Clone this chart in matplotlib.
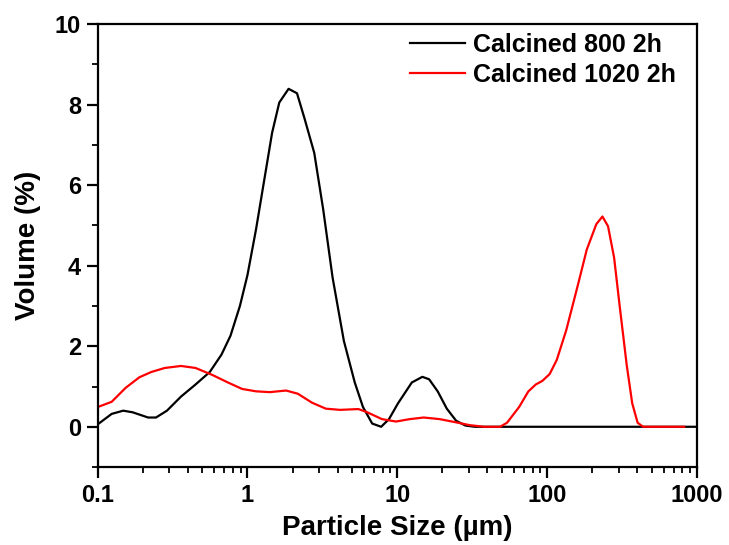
import matplotlib
matplotlib.use("Agg")
import matplotlib.pyplot as plt
from matplotlib.ticker import FixedLocator, LogLocator, NullFormatter, FixedFormatter

plt.rcParams['font.family'] = ['Liberation Sans', 'DejaVu Sans']
plt.rcParams['font.weight'] = 'bold'

# Calcined 800 2h
x800 = [0.1, 0.124, 0.148, 0.171, 0.217, 0.245, 0.29, 0.36, 0.45, 0.56, 0.67, 0.77,
        0.89, 1.0, 1.14, 1.29, 1.46, 1.63, 1.88, 2.14, 2.4, 2.79, 3.2, 3.7, 4.4, 5.2,
        5.9, 6.8, 7.8, 8.8, 10.1, 12.5, 14.7, 16.3, 18.6, 21.4, 24.7, 28.5, 33, 1000]
y800 = [0.06, 0.32, 0.40, 0.36, 0.23, 0.23, 0.40, 0.75, 1.05, 1.36, 1.79, 2.26,
        3.0, 3.77, 4.9, 6.1, 7.3, 8.05, 8.39, 8.28, 7.66, 6.8, 5.4, 3.7, 2.13, 1.1,
        0.49, 0.08, 0.0, 0.19, 0.58, 1.1, 1.24, 1.18, 0.88, 0.45, 0.15, 0.03, 0.0, 0.0]

# Calcined 1020 2h
x1020 = [0.1, 0.124, 0.154, 0.19, 0.228, 0.28, 0.36, 0.45, 0.58, 0.74, 0.92, 1.14,
         1.41, 1.81, 2.17, 2.69, 3.33, 4.15, 5.5, 6.3, 7.9, 9.8, 12.1, 15, 19.2, 24.7,
         30.5, 38, 48.5, 54, 65, 75, 84, 93, 104, 116, 134, 160, 184, 213, 234, 255,
         280, 305, 340, 370, 402, 437, 822]
y1020 = [0.49, 0.62, 0.97, 1.23, 1.36, 1.46, 1.51, 1.46, 1.29, 1.10, 0.94, 0.88,
         0.86, 0.90, 0.82, 0.60, 0.45, 0.42, 0.44, 0.36, 0.19, 0.13, 0.19, 0.23, 0.19, 0.11,
         0.04, 0.0, 0.0, 0.10, 0.49, 0.88, 1.05, 1.14, 1.31, 1.66, 2.39, 3.5, 4.4, 5.03, 5.22, 4.98,
         4.2, 3.0, 1.53, 0.58, 0.10, 0.0, 0.0]

labels = ['Calcined 800 2h', 'Calcined 1020 2h']
colors = ['black', 'red']
x_ticks = [0.1, 1, 10, 100, 1000]
x_ticklabels = ['0.1', '1', '10', '100', '1000']
y_ticks = [0, 2, 4, 6, 8, 10]

fig = plt.figure(figsize=(7.29, 5.45), dpi=100)
ax = fig.add_axes([0.134, 0.143, 0.822, 0.813])

ax.plot(x800, y800, color=colors[0], lw=1.6, label=labels[0])
ax.plot(x1020, y1020, color=colors[1], lw=1.6, label=labels[1])

ax.set_xscale('log')
ax.set_xlim(0.1, 1000)
ax.set_ylim(-1, 10)
ax.xaxis.set_major_locator(FixedLocator(x_ticks))
ax.xaxis.set_major_formatter(FixedFormatter(x_ticklabels))
ax.xaxis.set_minor_locator(LogLocator(base=10, subs=range(2, 10)))
ax.xaxis.set_minor_formatter(NullFormatter())
ax.yaxis.set_major_locator(FixedLocator(y_ticks))
ax.yaxis.set_minor_locator(FixedLocator([-1, 1, 3, 5, 7, 9]))

for s in ax.spines.values():
    s.set_linewidth(1.6)
ax.tick_params(which='major', direction='out', length=8, width=1.6, labelsize=17, pad=4)
ax.tick_params(which='minor', direction='out', length=4, width=1.3)
ax.tick_params(top=False, right=False, which='both')
for t in ax.get_xticklabels() + ax.get_yticklabels():
    t.set_fontweight('bold')

ax.set_xlabel('Particle Size (µm)', fontsize=20, fontweight='bold', labelpad=6)
ax.set_ylabel('Volume (%)', fontsize=20, fontweight='bold', labelpad=10)

leg = ax.legend(loc='upper right', bbox_to_anchor=(0.973, 0.991), frameon=False,
                handlelength=2.2, handletextpad=0.3, borderaxespad=0.0, borderpad=0.2,
                labelspacing=0.25, prop={'weight': 'bold', 'size': 18})

fig.savefig('out.png', dpi=100)
